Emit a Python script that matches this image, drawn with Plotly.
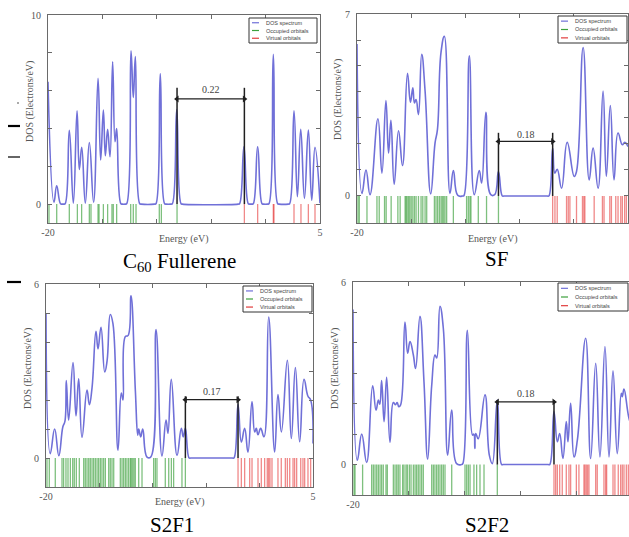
import plotly.graph_objects as go

W, H = 629, 537

# ---------------- data ----------------
# C60 Fullerene
c60_energy = [-20.0, -19.45, -19.2, -18.85, -18.7, -18.55, -18.42, -18.04, -17.67, -17.33, -17.12, -16.9,
              -16.57, -16.2, -15.81, -15.4, -15.16, -14.91, -14.73, -14.52, -14.3, -14.06, -13.84, -13.69,
              -13.3, -13.17, -12.9, -12.77, -12.37, -12.16, -11.97, -11.57, -11.45, -10.2, -10.08, -9.68,
              -9.28, -9.16, -8.7, -8.57, -8.17, -7.77, -7.65, -2.52, -2.39, -1.99, -1.59, -1.47, -1.25,
              -1.13, -0.73, -0.33, -0.21, 0.19, 0.31, 0.71, 1.11, 1.23, 2.09, 2.21, 2.61, 2.92, 3.23,
              3.57, 3.93, 4.24, 4.54, 5.0]
c60_dos = [6.47, 0.1, 0.97, 0.02, 0, 0, 0.02, 3.9, 0.05, 4.94, 1.83, 3.0,
           0.05, 3.26, 0.1, 6.65, 2.33, 4.97, 2.56, 3.95, 2.5, 7.53, 3.3, 4.0,
           0.02, 0, 0, 0.02, 8.11, 5.64, 7.8, 0.02, 0, 0, 0.02, 6.9,
           0.02, 0, 0, 0.02, 5.0, 0.02, 0, 0, 0.02, 3.03, 0.02, 0, 0,
           0.02, 3.03, 0.02, 0, 0, 0.02, 7.92, 0.02, 0, 0, 0.02, 4.94, 0.39, 3.95,
           0.3, 3.92, 0.2, 3.0, 0.05]
c60_occupied = [-19.91, -19.2, -18.04, -17.3, -16.91, -16.2, -16.05, -15.4, -15.31, -14.91, -14.52,
                -14.12, -14.0, -13.69, -12.4, -12.16, -11.91, -9.77, -9.58, -8.14]
c60_virtual = [-1.95, -0.73, 0.71, 0.77, 2.61, 3.25, 3.93, 4.54]
c60_homo_lumo = [-8.14, -1.95]

# SF
sf_energy = [-20.0, -19.54, -19.17, -18.8, -18.07, -17.7, -17.33, -17.09, -16.87, -16.57, -16.17, -15.8,
             -15.34, -15.07, -14.85, -14.7, -14.55, -14.33, -14.03, -13.72, -13.2, -12.8, -12.58, -12.25,
             -11.94, -11.42, -11.11, -10.7, -10.25, -10.13, -9.64, -9.18, -8.72, -8.5, -8.11, -7.66, -7.3,
             -6.95, -6.6, -6.45, -2.45, -2.3, -1.95, -1.75, -1.53, -1.13, -0.61, 0.04, 0.25, 0.86, 1.42,
             1.78, 2.24, 2.70, 3.0, 3.37, 3.71, 4.08, 4.48, 4.70, 5.0]
sf_dos = [5.85, 0.1, 1.0, 0.05, 2.97, 0.88, 3.67, 1.65, 2.91, 0.45, 2.51, 1.17,
          4.72, 3.61, 4.16, 3.58, 3.71, 3.13, 5.45, 4.04, 0.08, 2.04, 2.55, 5.52,
          6.14, 0.1, 0.98, 0.02, 0, 0.02, 5.39, 0.05, 0.98, 0.5, 3.22, 0.05, 0.05,
          0.94, 0, 0, 0, 0, 1.84, 0.88, 1.03, 0.3, 2.06, 0.75, 0.94, 5.71, 0.62,
          1.84, 0.3, 4.04, 0.75, 3.48, 0.62, 2.42, 1.97, 2.06, 1.9]
sf_occupied = [-19.91, -19.79, -19.08, -18.16, -17.95, -17.46, -17.31, -16.85, -16.23, -16.02, -15.56,
               -15.47, -15.38, -15.25, -15.13, -15.0, -14.85, -14.7, -14.55, -14.33, -14.09, -13.93,
               -13.72, -13.57, -12.86, -12.71, -12.56, -12.4, -12.25, -12.13, -12.0, -11.88, -11.73,
               -11.11, -9.89, -9.73, -9.58, -9.49, -8.81, -8.05, -6.95]
sf_virtual = [-1.95, -1.74, -1.53, -0.67, -0.51, -0.36, 0.25, 0.80, 0.93, 1.02, 1.88, 2.64, 2.79,
              3.32, 3.47, 3.87, 4.08, 4.33, 4.48, 4.69, 4.85]
sf_homo_lumo = [-6.95, -1.95]

# S2F1
s2f1_energy = [-20.0, -19.6, -19.19, -18.8, -18.42, -18.23, -18.10, -17.88, -17.47, -17.19, -16.94, -16.63,
               -16.16, -15.94, -15.69, -15.32, -15.13, -14.85, -14.5, -14.28, -13.98, -13.73, -13.26, -12.95,
               -12.79, -12.57, -12.32, -12.04, -11.63, -11.41, -11.32, -11.13, -10.94, -10.54, -10.2, -9.70,
               -9.14, -8.76, -8.58, -8.27, -7.73, -7.33, -7.15, -6.95, -6.6, -6.45, -2.55, -2.4, -2.02,
               -1.71, -1.40, -1.09, -0.71, -0.46, -0.31, -0.15, 0.10, 0.41, 0.85, 1.41, 1.72, 2.04, 2.60,
               2.97, 3.35, 3.75, 4.16, 4.53, 4.78, 5.0]
s2f1_dos = [5.0, 0.15, 1.0, 0.08, 1.08, 1.26, 2.67, 1.31, 3.29, 1.45, 2.73, 0.71,
            2.34, 1.84, 2.42, 4.37, 3.76, 4.51, 2.97, 3.35, 4.95, 4.63, 0.27, 2.24,
            2.0, 4.19, 4.22, 5.59, 2.3, 0.79, 1.0, 0.73, 1.0, 0.03, 0.03, 4.43,
            0.07, 1.31, 0.85, 2.71, 0.09, 1.02, 0.73, 1.02, 0, 0, 0, 0, 1.84,
            0.55, 1.02, 0.2, 1.95, 0.9, 1.02, 0.8, 1.02, 0.73, 4.86, 0.21, 2.19, 0.9, 3.37,
            0.67, 3.12, 0.56, 2.71, 2.13, 2.0, 0.5]
s2f1_occupied = [-19.91, -19.69, -19.13, -18.50, -18.35, -18.13, -17.94, -17.72, -17.50, -17.35, -17.16,
                 -16.88, -16.47, -16.32, -16.16, -16.0, -15.85, -15.69, -15.54, -15.38, -15.22, -15.07,
                 -14.91, -14.76, -14.60, -14.44, -14.13, -13.98, -13.82, -13.66, -13.04, -12.88, -12.73,
                 -12.57, -12.42, -12.26, -12.10, -12.01, -11.88, -11.76, -11.64, -11.32, -11.01, -9.92,
                 -9.76, -9.61, -8.83, -8.51, -8.26, -8.05, -7.27, -6.95]
s2f1_virtual = [-2.02, -1.71, -1.40, -0.93, -0.71, -0.15, 0.16, 0.47, 0.72, 0.85, 0.97, 1.16, 1.72, 2.03,
                2.41, 2.60, 2.82, 3.13, 3.28, 3.47, 3.85, 4.06, 4.22, 4.53, 4.78]
s2f1_homo_lumo = [-6.95, -2.02]

# S2F2
s2f2_energy = [-20.0, -19.61, -19.22, -18.78, -18.24, -17.94, -17.73, -17.6, -17.44, -17.22, -16.99, -16.69,
               -16.39, -16.2, -16.05, -15.9, -15.74, -15.35, -15.11, -14.9, -14.6, -14.4, -14.01, -13.65,
               -13.32, -12.96, -12.66, -12.51, -12.22, -11.92, -11.53, -11.17, -10.73, -10.3, -10.18, -9.77,
               -9.3, -9.19, -9.1, -9.02, -8.8, -8.19, -7.8, -7.54, -7.09, -6.7, -6.55, -2.55, -2.4, -2.02,
               -1.72, -1.51, -1.22, -0.92, -0.77, -0.53, -0.23, 0.07, 0.81, 1.26, 1.71, 2.09, 2.54, 2.90,
               3.26, 3.64, 4.0, 4.09, 4.24, 4.69, 5.0]
s2f2_dos = [5.1, 0.14, 1.0, 0.07, 2.59, 1.79, 2.12, 1.98, 2.76, 1.41, 2.87, 0.73,
            2.04, 1.97, 2.04, 1.9, 1.96, 4.68, 3.66, 4.04, 3.6, 3.16, 4.87, 2.72,
            0.18, 2.6, 3.6, 3.5, 5.2, 4.48, 0.31, 1.79, 0.03, 0, 0.03, 4.41,
            0.97, 1.0, 0.53, 1.02, 0.85, 2.29, 0.3, 0.03, 2.12, 0, 0, 0, 0, 1.74,
            0.75, 1.02, 0.2, 1.41, 0.75, 2.01, 0.25, 0.8, 4.15, 0.2, 3.33, 0.25, 3.88, 0.25,
            3.08, 0.36, 2.34, 2.23, 2.48, 1.52, 1.2]
s2f2_occupied = [-19.91, -19.82, -19.14, -18.33, -18.18, -18.03, -17.88, -17.73, -17.58, -17.44, -17.29,
                 -17.05, -16.93, -16.39, -16.24, -16.09, -15.95, -15.80, -15.56, -15.44, -15.26, -15.14,
                 -14.96, -14.81, -14.60, -14.45, -14.31, -14.16, -14.01, -13.86, -13.71, -12.96, -12.81,
                 -12.67, -12.52, -12.37, -12.22, -12.07, -11.92, -11.77, -11.17, -9.98, -9.83, -9.68,
                 -9.53, -9.18, -8.94, -8.64, -8.28, -7.09]
s2f2_virtual = [-2.02, -1.87, -1.72, -1.51, -1.28, -0.92, -0.68, -0.53, -0.02, 0.21, 0.66, 0.75, 0.87,
                0.99, 1.11, 1.71, 1.85, 2.45, 2.60, 2.69, 3.26, 3.43, 3.73, 3.94, 4.09, 4.24, 4.45, 4.63]
s2f2_homo_lumo = [-7.09, -2.02]

panel_titles = ["C<sub>60</sub> Fullerene", "SF", "S2F1", "S2F2"]
gap_labels = ["0.22", "0.18", "0.17", "0.18"]
y_tick_values = [[0, 2, 4, 6, 8, 10], [0, 1, 2, 3, 4, 5, 6, 7], [0, 1, 2, 3, 4, 5, 6], [0, 1, 2, 3, 4, 5, 6]]
y_tick_labels = [["0", "", "", "", "", "10"], ["0", "", "", "", "", "", "", "7"],
                 ["0", "", "", "", "", "", "6"], ["0", "", "", "", "", "", "6"]]
x_tick_values = [-20, -15, -10, -5, 0, 5]
x_tick_labels = ["-20", "", "", "", "", "5"]
legend_labels = ["DOS spectrum", "Occupied orbitals", "Virtual orbitals"]
x_title = "Energy (eV)"
y_title = "DOS (Electrons/eV)"

series = [
    (c60_energy, c60_dos, c60_occupied, c60_virtual, c60_homo_lumo),
    (sf_energy, sf_dos, sf_occupied, sf_virtual, sf_homo_lumo),
    (s2f1_energy, s2f1_dos, s2f1_occupied, s2f1_virtual, s2f1_homo_lumo),
    (s2f2_energy, s2f2_dos, s2f2_occupied, s2f2_virtual, s2f2_homo_lumo),
]

# ---------------- layout config (pixels) ----------------
frames = [
    dict(x0=48, x1=320, y0=15, y1=223, xmax=5, ymin=-1.0, ymax=10, mirror_y=True,
         legend=(249, 18, 317, 43), title=(179, 262), xlab=(184, 239), ylab=(30, 102),
         gap=(6.15, 5.56, 6.07)),
    dict(x0=357, x1=628, y0=14, y1=223, xmax=5, ymin=-1.04, ymax=7, mirror_y=True,
         legend=(558, 16, 627, 43), title=(496, 259), xlab=(493, 239), ylab=(338, 100),
         gap=(2.43, 2.1, 2.38)),
    dict(x0=46, x1=313, y0=284, y1=487, xmax=5, ymin=-1.0, ymax=6, mirror_y=True,
         legend=(243, 286, 312, 312), title=(172, 525), xlab=(180, 502), ylab=(28, 368),
         gap=(2.13, 2.01, 2.28)),
    dict(x0=353, x1=629, y0=282, y1=495, xmax=4.69, ymin=-1.0, ymax=6, mirror_y=False,
         legend=(558, 283, 628, 311), title=(487, 525), xlab=None, ylab=(335, 369),
         gap=(2.12, 2.06, 2.34)),
]

BLUE = "rgb(112,112,216)"
GREEN = "rgba(20,140,20,0.55)"
RED = "rgba(225,20,20,0.5)"
FRAME = "#6a6a6a"
LABEL = "#555555"
SERIF = "Liberation Serif, Times New Roman, serif"
SANS = "Liberation Sans, Arial, sans-serif"


def pxx(p):
    return p / W


def pxy(p):
    return 1 - p / H


def bar_xy(levels, y_top, y_bottom):
    xs, ys = [], []
    for e in levels:
        xs += [e, e, None]
        ys += [y_top, y_bottom, None]
    return xs, ys


fig = go.Figure()
shapes, annotations = [], []
layout = dict(width=W, height=H, margin=dict(l=0, r=0, t=0, b=0, pad=0, autoexpand=False),
              paper_bgcolor="white", plot_bgcolor="white", showlegend=False)

for i, ((energy, dos, occ, virt, hl), cfg) in enumerate(zip(series, frames)):
    n = "" if i == 0 else str(i + 1)
    xa, ya = "x" + n, "y" + n
    layout["xaxis" + n] = dict(
        domain=[pxx(cfg["x0"]), min(1.0, pxx(cfg["x1"]))], range=[-20, cfg["xmax"]], anchor=ya,
        tickvals=x_tick_values, ticktext=x_tick_labels, ticks="inside", ticklen=4, tickwidth=1,
        tickcolor=FRAME, showline=True, linecolor=FRAME, linewidth=1, mirror="ticks",
        showgrid=False, zeroline=False, tickfont=dict(family=SERIF, size=10, color=LABEL),
        automargin=False, fixedrange=True)
    layout["yaxis" + n] = dict(
        domain=[pxy(cfg["y1"]), pxy(cfg["y0"])], range=[cfg["ymin"], cfg["ymax"]], anchor=xa,
        tickvals=y_tick_values[i], ticktext=y_tick_labels[i], ticks="inside", ticklen=4, tickwidth=1,
        tickcolor=FRAME, showline=True, linecolor=FRAME, linewidth=1,
        mirror="ticks" if cfg["mirror_y"] else False,
        showgrid=False, zeroline=False, tickfont=dict(family=SERIF, size=10, color=LABEL),
        ticklabelstandoff=4, automargin=False, fixedrange=True)

    ox, oy = bar_xy(occ, 0, cfg["ymin"])
    fig.add_trace(go.Scatter(x=ox, y=oy, mode="lines", line=dict(color=GREEN, width=1.3),
                             xaxis=xa, yaxis=ya, hoverinfo="skip"))
    vx, vy = bar_xy(virt, 0, cfg["ymin"])
    fig.add_trace(go.Scatter(x=vx, y=vy, mode="lines", line=dict(color=RED, width=1.3),
                             xaxis=xa, yaxis=ya, hoverinfo="skip"))
    fig.add_trace(go.Scatter(x=energy, y=dos, mode="lines",
                             line=dict(color=BLUE, width=1.6, shape="spline", smoothing=1.3),
                             xaxis=xa, yaxis=ya))

    # HOMO-LUMO gap marker
    homo, lumo = hl
    top, arrow_y, text_y = cfg["gap"]
    for e in (homo, lumo):
        shapes.append(dict(type="line", xref=xa, yref=ya, x0=e, x1=e, y0=0, y1=top,
                           line=dict(color="#202020", width=1.5)))
    fig.add_trace(go.Scatter(x=[homo, lumo], y=[arrow_y, arrow_y], mode="lines+markers",
                             line=dict(color="#202020", width=1.2),
                             marker=dict(symbol=["triangle-left", "triangle-right"], size=6,
                                         color="#202020"),
                             xaxis=xa, yaxis=ya, hoverinfo="skip"))
    annotations.append(dict(xref=xa, yref=ya, x=(homo + lumo) / 2, y=text_y, text=gap_labels[i],
                            yanchor="middle", showarrow=False,
                            font=dict(family=SERIF, size=10, color="#444444")))

    # panel title and axis titles
    tx, ty = cfg["title"]
    annotations.append(dict(xref="paper", yref="paper", x=pxx(tx), y=pxy(ty), text=panel_titles[i],
                            xanchor="center", yanchor="middle", showarrow=False,
                            font=dict(family=SERIF, size=21, color="black")))
    if cfg["xlab"]:
        lx, ly = cfg["xlab"]
        annotations.append(dict(xref="paper", yref="paper", x=pxx(lx), y=pxy(ly), text=x_title,
                                xanchor="center", yanchor="middle", showarrow=False,
                                font=dict(family=SERIF, size=10, color=LABEL)))
    yx, yy = cfg["ylab"]
    annotations.append(dict(xref="paper", yref="paper", x=pxx(yx), y=pxy(yy), text=y_title, textangle=-90,
                            xanchor="center", yanchor="middle", showarrow=False,
                            font=dict(family=SERIF, size=10, color=LABEL)))

    # legend box
    bx0, by0, bx1, by1 = cfg["legend"]
    shapes.append(dict(type="rect", xref="paper", yref="paper", x0=pxx(bx0), x1=pxx(bx1),
                       y0=pxy(by1), y1=pxy(by0), line=dict(color="#333333", width=1),
                       fillcolor="white"))
    bh = by1 - by0
    for k, (lab, col) in enumerate(zip(legend_labels, [BLUE, "rgb(60,160,60)", "rgb(225,60,60)"])):
        ry = by0 + bh * (0.19 + 0.31 * k)
        shapes.append(dict(type="line", xref="paper", yref="paper", x0=pxx(bx0 + 3), x1=pxx(bx0 + 10),
                           y0=pxy(ry), y1=pxy(ry), line=dict(color=col, width=1.2)))
        annotations.append(dict(xref="paper", yref="paper", x=pxx(bx0 + 15), y=pxy(ry), text=lab,
                                xanchor="left", yanchor="middle", showarrow=False,
                                font=dict(family=SANS, size=5.5, color="#444444")))

# small marks at the left edge of the picture
for (x0, x1, y, w, c) in [(8, 20, 126, 2.2, "black"), (8, 20, 157, 1.2, "black"),
                          (7, 21, 282, 2.2, "black"), (17, 19, 103, 2, "#aaaaaa")]:
    shapes.append(dict(type="line", xref="paper", yref="paper", x0=pxx(x0), x1=pxx(x1),
                       y0=pxy(y), y1=pxy(y), line=dict(color=c, width=w)))

layout["shapes"] = shapes
layout["annotations"] = annotations
fig.update_layout(**layout)
fig.write_html("out.html", config={"displayModeBar": False, "staticPlot": True},
               post_script="document.body.style.margin='0px';"
                           "document.body.style.overflow='hidden';")
